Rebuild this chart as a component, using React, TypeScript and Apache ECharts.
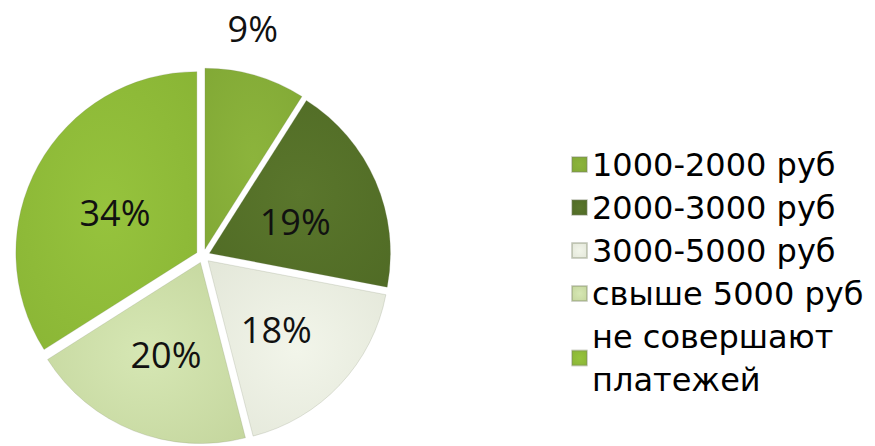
import React, { useEffect, useRef } from "react";
import * as echarts from "echarts";

const categories = [
  "1000-2000 руб",
  "2000-3000 руб",
  "3000-5000 руб",
  "свыше 5000 руб",
  "не совершают\nплатежей",
];
const shares = [9, 19, 18, 20, 34];
const sliceColors: [string, string][] = [
  ["#8cb43c", "#7fa634"],
  ["#5a762c", "#4d6823"],
  ["#f2f5ea", "#dfe3d4"],
  ["#d6e7b4", "#bfd197"],
  ["#96c33d", "#86b133"],
];

export default function App() {
  const ref = useRef<HTMLDivElement>(null);
  useEffect(() => {
    if (!ref.current) return;
    const chart = echarts.init(ref.current, undefined, { renderer: "svg" });
    const data = shares.map((v, i) => ({
      name: categories[i],
      value: v,
      selected: true,
      itemStyle: {
        color: new echarts.graphic.RadialGradient(0.5, 0.5, 0.9, [
          { offset: 0, color: sliceColors[i][0] },
          { offset: 1, color: sliceColors[i][1] },
        ], false),
      },
      label:
        i === 0
          ? { position: "outside" as const }
          : { position: "inside" as const },
      labelLine: { show: false, length: 40, length2: 0 },
    }));
    chart.setOption({
      animation: false,
      backgroundColor: "#ffffff",
      legend: {
        orient: "vertical",
        left: 566,
        top: 138,
        itemWidth: 15,
        itemHeight: 15,
        itemGap: 0,
        icon: "rect",
        selectedMode: false,
        textStyle: {
          fontFamily: "DejaVu Sans",
          fontSize: 32,
          lineHeight: 43,
          color: "#000000",
          padding: [0, 0, 0, 0],
        },
        data: categories,
      },
      series: [
        {
          type: "pie",
          center: [203, 256],
          radius: [0, 181],
          startAngle: 90,
          clockwise: true,
          selectedMode: "multiple",
          selectedOffset: 7,
          avoidLabelOverlap: false,
          itemStyle: { borderColor: "rgba(120,130,100,0.35)", borderWidth: 0.6 },
          emphasis: { disabled: true },
          label: {
            show: true,
            formatter: "{c}%",
            fontFamily: "Open Sans",
            fontSize: 36,
            color: "#111111",
          },
          labelLayout: (p: any) =>
            p.dataIndex === 0 ? { dx: -44, dy: -9 } : { dy: 5 },
          data,
        },
      ],
    });
    return () => chart.dispose();
  }, []);
  return (
    <div
      ref={ref}
      style={{ width: 875, height: 446, position: "fixed", left: 0, top: 0 }}
    />
  );
}
